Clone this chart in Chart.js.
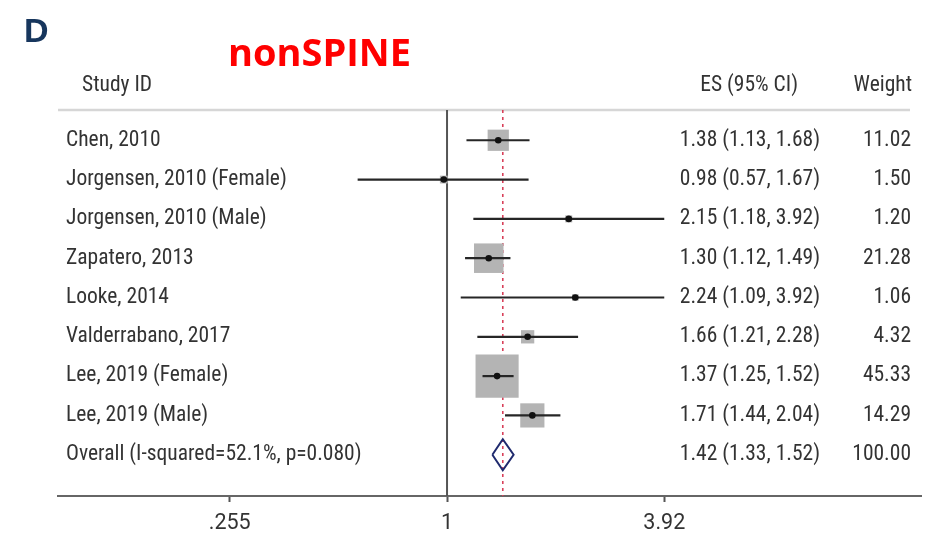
<!DOCTYPE html>
<html>
<head>
<meta charset="utf-8">
<script src="https://cdn.jsdelivr.net/npm/chart.js@4/dist/chart.umd.min.js"></script>
<style>
  html, body { margin: 0; padding: 0; background: #fff; overflow: hidden; }
  #forest { display: block; }
</style>
</head>
<body>
<canvas id="forest" width="933" height="541"></canvas>
<script>
// Study rows (the pooled estimate is kept separately below)
const studies = [
  'Chen, 2010',
  'Jorgensen, 2010 (Female)',
  'Jorgensen, 2010 (Male)',
  'Zapatero, 2013',
  'Looke, 2014',
  'Valderrabano, 2017',
  'Lee, 2019 (Female)',
  'Lee, 2019 (Male)'
];
const effect = [1.38, 0.98, 2.15, 1.30, 2.24, 1.66, 1.37, 1.71];
const lower = [1.13, 0.57, 1.18, 1.12, 1.09, 1.21, 1.25, 1.44];
const upper = [1.68, 1.67, 3.92, 1.49, 3.92, 2.28, 1.52, 2.04];
const weights = [11.02, 1.50, 1.20, 21.28, 1.06, 4.32, 45.33, 14.29];

const overallLabel = 'Overall (I-squared=52.1%, p=0.080)';
const overallEffect = 1.42;
const overallLower = 1.33;
const overallUpper = 1.52;
const overallWeight = 100.00;

const xTicks = [0.255, 1, 3.92];
const xTickLabels = ['.255', '1', '3.92'];

const textFont = '21.5px Roboto, sans-serif';
const textColor = '#333';
const overallRow = studies.length;

// CI text like "1.38 (1.13, 1.68)"
function ciText(e, l, u) {
  return e.toFixed(2) + ' (' + l.toFixed(2) + ', ' + u.toFixed(2) + ')';
}

// One line dataset per confidence interval
const ciSets = studies.map((s, i) => ({
  data: [{ x: lower[i], y: i }, { x: upper[i], y: i }],
  showLine: true,
  borderColor: '#262626',
  borderWidth: 2.2,
  pointRadius: 0,
  order: 2
}));

// Weight squares, area proportional to weight
const squareSet = {
  data: studies.map((s, i) => ({ x: effect[i], y: i })),
  pointStyle: 'rect',
  pointRadius: weights.map(w => Math.sqrt(w) * 6.4 / Math.SQRT2),
  pointBackgroundColor: '#b4b4b4',
  pointBorderWidth: 0,
  order: 3
};

const dotSet = {
  data: studies.map((s, i) => ({ x: effect[i], y: i })),
  pointRadius: 3.3,
  pointBackgroundColor: '#111',
  pointBorderWidth: 0,
  order: 1
};

// Pooled estimate diamond
const dh = 0.395;
const diamondSet = {
  data: [
    { x: overallLower, y: overallRow },
    { x: overallEffect, y: overallRow - dh },
    { x: overallUpper, y: overallRow },
    { x: overallEffect, y: overallRow + dh },
    { x: overallLower, y: overallRow }
  ],
  showLine: true,
  borderColor: '#1f2a6e',
  borderWidth: 2,
  pointRadius: 0,
  order: 1
};

const forestDecor = {
  id: 'forestDecor',
  beforeDraw(chart) {
    // condensed face for the axis tick labels too
    chart.ctx.fontStretch = 'condensed';
  },
  beforeDatasetsDraw(chart) {
    const { ctx, chartArea, scales: { x } } = chart;
    ctx.save();
    // header rule
    ctx.strokeStyle = '#d6d6d6';
    ctx.lineWidth = 2.5;
    ctx.beginPath();
    ctx.moveTo(chartArea.left, chartArea.top);
    ctx.lineTo(910, chartArea.top);
    ctx.stroke();
    // null line at 1
    let px = x.getPixelForValue(1);
    ctx.strokeStyle = '#555';
    ctx.lineWidth = 2;
    ctx.beginPath();
    ctx.moveTo(px, chartArea.top);
    ctx.lineTo(px, chartArea.bottom);
    ctx.stroke();
    // dashed line at pooled estimate
    px = x.getPixelForValue(overallEffect);
    ctx.strokeStyle = '#d8405a';
    ctx.lineWidth = 1.6;
    ctx.setLineDash([3, 4]);
    ctx.beginPath();
    ctx.moveTo(px, chartArea.top);
    ctx.lineTo(px, chartArea.bottom);
    ctx.stroke();
    ctx.restore();
  },
  afterDraw(chart) {
    const { ctx, chartArea, scales: { y } } = chart;
    ctx.save();
    // panel letter and subgroup title
    ctx.fontStretch = 'normal';
    ctx.textBaseline = 'alphabetic';
    ctx.textAlign = 'left';
    ctx.fillStyle = '#17365d';
    ctx.font = 'bold 34px "Liberation Sans", sans-serif';
    ctx.fillText('D', 24, 42);
    ctx.fillStyle = '#ff0000';
    ctx.font = 'bold 38px "Open Sans", sans-serif';
    ctx.fillText('nonSPINE', 228, 66);

    ctx.font = textFont;
    ctx.fontStretch = 'condensed';
    ctx.fillStyle = textColor;
    ctx.textBaseline = 'middle';
    const headY = chartArea.top - 24;
    ctx.fillText('Study ID', 82, headY);
    ctx.textAlign = 'right';
    ctx.fillText('ES (95% CI)', 798, headY);
    ctx.fillText('Weight', 912, headY);

    studies.forEach((s, i) => {
      const py = y.getPixelForValue(i);
      ctx.textAlign = 'left';
      ctx.fillText(s, 66, py);
      ctx.textAlign = 'right';
      ctx.fillText(ciText(effect[i], lower[i], upper[i]), 820, py);
      ctx.fillText(weights[i].toFixed(2), 911, py);
    });
    const oy = y.getPixelForValue(overallRow);
    ctx.textAlign = 'left';
    ctx.fillText(overallLabel, 66, oy);
    ctx.textAlign = 'right';
    ctx.fillText(ciText(overallEffect, overallLower, overallUpper), 820, oy);
    ctx.fillText(overallWeight.toFixed(2), 911, oy);
    ctx.restore();
  }
};

new Chart(document.getElementById('forest'), {
  type: 'scatter',
  data: { datasets: [...ciSets, squareSet, dotSet, diamondSet] },
  options: {
    responsive: false,
    animation: false,
    events: [],
    layout: { autoPadding: false, padding: { left: 58, right: 12, top: 110, bottom: 0 } },
    plugins: { legend: { display: false }, tooltip: { enabled: false } },
    scales: {
      x: {
        type: 'logarithmic',
        min: 0.0866,
        max: 19.7,
        afterBuildTicks: scale => { scale.ticks = xTicks.map(v => ({ value: v })); },
        afterFit: scale => {
          scale.height = 45;
          scale.paddingLeft = 0;
          scale.paddingRight = 0;
        },
        ticks: {
          autoSkip: false,
          maxRotation: 0,
          padding: 9,
          color: textColor,
          font: { family: 'Roboto, sans-serif', size: 21.5 },
          callback: (v, i) => xTickLabels[i]
        },
        grid: { drawOnChartArea: false, drawTicks: true, tickLength: 6, tickWidth: 2, tickColor: '#555' },
        border: { display: true, color: '#666', width: 2 }
      },
      y: {
        type: 'linear',
        display: false,
        reverse: true,
        min: -0.77,
        max: 9.05
      }
    }
  },
  plugins: [forestDecor]
});
</script>
</body>
</html>
